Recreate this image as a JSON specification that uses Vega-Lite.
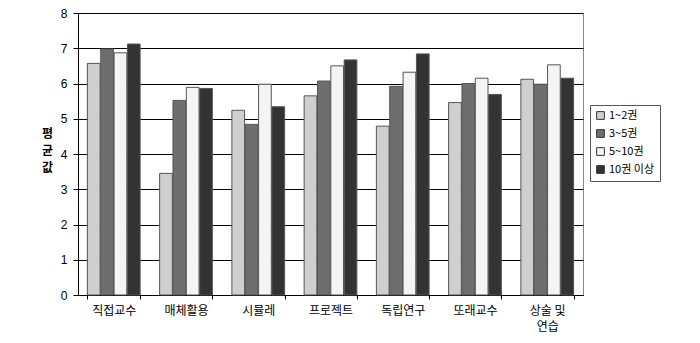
{
  "$schema": "https://vega.github.io/schema/vega-lite/v6.json",
  "autosize": {"type": "none"},
  "width": 505,
  "height": 282,
  "padding": {"left": 78, "top": 13, "right": 117, "bottom": 48},
  "background": "white",
  "config": {
    "view": {"stroke": "#888888", "strokeWidth": 1},
    "font": "DejaVu Sans"
  },
  "data": {
    "values": [
      {"method": "직접교수", "group": "1~2권", "value": 6.57},
      {"method": "직접교수", "group": "3~5권", "value": 6.98},
      {"method": "직접교수", "group": "5~10권", "value": 6.87},
      {"method": "직접교수", "group": "10권 이상", "value": 7.12},
      {"method": "매체활용", "group": "1~2권", "value": 3.45},
      {"method": "매체활용", "group": "3~5권", "value": 5.52},
      {"method": "매체활용", "group": "5~10권", "value": 5.89},
      {"method": "매체활용", "group": "10권 이상", "value": 5.86},
      {"method": "시뮬레", "group": "1~2권", "value": 5.24},
      {"method": "시뮬레", "group": "3~5권", "value": 4.84},
      {"method": "시뮬레", "group": "5~10권", "value": 5.98},
      {"method": "시뮬레", "group": "10권 이상", "value": 5.34},
      {"method": "프로젝트", "group": "1~2권", "value": 5.65},
      {"method": "프로젝트", "group": "3~5권", "value": 6.07},
      {"method": "프로젝트", "group": "5~10권", "value": 6.5},
      {"method": "프로젝트", "group": "10권 이상", "value": 6.67},
      {"method": "독립연구", "group": "1~2권", "value": 4.79},
      {"method": "독립연구", "group": "3~5권", "value": 5.92},
      {"method": "독립연구", "group": "5~10권", "value": 6.32},
      {"method": "독립연구", "group": "10권 이상", "value": 6.84},
      {"method": "또래교수", "group": "1~2권", "value": 5.46},
      {"method": "또래교수", "group": "3~5권", "value": 6.0},
      {"method": "또래교수", "group": "5~10권", "value": 6.15},
      {"method": "또래교수", "group": "10권 이상", "value": 5.69},
      {"method": "상술 및 연습", "group": "1~2권", "value": 6.12},
      {"method": "상술 및 연습", "group": "3~5권", "value": 5.98},
      {"method": "상술 및 연습", "group": "5~10권", "value": 6.53},
      {"method": "상술 및 연습", "group": "10권 이상", "value": 6.15}
    ]
  },
  "mark": {"type": "bar", "stroke": "#555555", "strokeWidth": 1},
  "encoding": {
    "x": {
      "field": "method",
      "type": "nominal",
      "sort": null,
      "scale": {"paddingInner": 0.27, "paddingOuter": 0.13},
      "axis": {
        "title": null,
        "labelAngle": 0,
        "labelFont": "Noto Sans CJK KR",
        "labelFontSize": 12,
        "labelColor": "#000000",
        "labelPadding": 6,
        "labelExpr": "datum.value == '상술 및 연습' ? ['상술 및', '연습'] : datum.value",
        "labelLineHeight": 16,
        "domainColor": "#000000",
        "tickColor": "#000000",
        "tickBand": "extent",
        "tickSize": 4
      }
    },
    "xOffset": {
      "field": "group",
      "type": "nominal",
      "sort": ["1~2권", "3~5권", "5~10권", "10권 이상"],
      "scale": {"paddingInner": 0.05}
    },
    "y": {
      "field": "value",
      "type": "quantitative",
      "scale": {"domain": [0, 8], "nice": false},
      "axis": {
        "values": [0, 1, 2, 3, 4, 5, 6, 7, 8],
        "title": ["평", "균", "값"],
        "titleAngle": 0,
        "titleFont": "Noto Sans CJK KR",
        "titleFontSize": 12,
        "titleFontWeight": "bold",
        "titleLineHeight": 17,
        "titleX": -31,
        "titleY": 115,
        "titleAlign": "center",
        "titleBaseline": "top",
        "labelFont": "Liberation Sans",
        "labelFontSize": 12,
        "labelColor": "#000000",
        "labelPadding": 6,
        "gridColor": "#000000",
        "gridOpacity": 1,
        "domainColor": "#000000",
        "tickColor": "#000000",
        "tickSize": 5
      }
    },
    "fill": {
      "field": "group",
      "type": "nominal",
      "sort": ["1~2권", "3~5권", "5~10권", "10권 이상"],
      "scale": {
        "domain": ["1~2권", "3~5권", "5~10권", "10권 이상"],
        "range": ["#cfcfcf", "#6e6e6e", "#f4f4f4", "#333333"]
      },
      "legend": {
        "title": null,
        "orient": "none",
        "legendX": 512,
        "legendY": 92,
        "strokeColor": "#555555",
        "padding": 5,
        "symbolType": "square",
        "symbolSize": 60,
        "symbolStrokeColor": "#333333",
        "symbolStrokeWidth": 1,
        "labelFont": "Noto Sans CJK KR",
        "labelFontSize": 11,
        "labelColor": "#000000",
        "rowPadding": 5,
        "labelOffset": 3
      }
    }
  }
}
